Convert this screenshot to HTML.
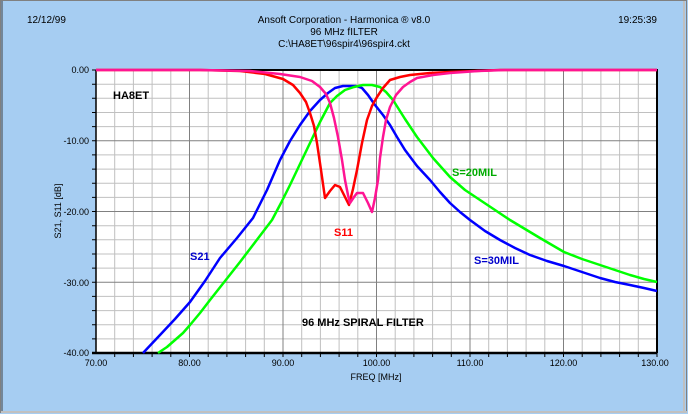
<!DOCTYPE html>
<html><head><meta charset="utf-8"><style>
html,body{margin:0;padding:0;width:688px;height:414px;overflow:hidden;background:#a6cdf2}
svg{display:block}
</style></head><body>
<svg width="688" height="414" xmlns="http://www.w3.org/2000/svg" font-family="Liberation Sans, sans-serif" font-size="10">
<rect x="0" y="0" width="688" height="414" fill="#a6cdf2"/>
<rect x="0.5" y="0.5" width="686" height="412" fill="none" stroke="#808080" stroke-width="1"/>
<line x1="2" y1="1" x2="2" y2="412" stroke="#404040" stroke-width="1"/>
<line x1="684" y1="1" x2="684" y2="412" stroke="#c0c0c0" stroke-width="2"/>
<line x1="1" y1="412" x2="687" y2="412" stroke="#c0c0c0" stroke-width="2"/>
<text x="27" y="23">12/12/99</text>
<text x="344" y="23" text-anchor="middle">Ansoft Corporation - Harmonica ® v8.0</text>
<text x="344" y="35" text-anchor="middle">96 MHz fILTER</text>
<text x="344" y="47" text-anchor="middle">C:\HA8ET\96spir4\96spir4.ckt</text>
<text x="657" y="23" text-anchor="end">19:25:39</text>
<rect x="96" y="70" width="561" height="283" fill="#fff"/>
<g stroke="#c0c0c0" stroke-width="1">
<path d="M114.7 70V353M133.4 70V353M152.1 70V353M170.8 70V353M208.2 70V353M226.9 70V353M245.6 70V353M264.3 70V353M301.7 70V353M320.4 70V353M339.1 70V353M357.8 70V353M395.2 70V353M413.9 70V353M432.6 70V353M451.3 70V353M488.7 70V353M507.4 70V353M526.1 70V353M544.8 70V353M582.2 70V353M600.9 70V353M619.6 70V353M638.3 70V353"/>
<path d="M96 84.2H657M96 98.3H657M96 112.5H657M96 126.6H657M96 154.9H657M96 169.1H657M96 183.2H657M96 197.4H657M96 225.7H657M96 239.8H657M96 254H657M96 268.1H657M96 296.4H657M96 310.6H657M96 324.7H657M96 338.9H657"/>
</g>
<g stroke="#808080" stroke-width="1">
<path d="M189.5 70V353M283 70V353M376.5 70V353M470 70V353M563.5 70V353"/>
<path d="M96 140.8H657M96 211.5H657M96 282.3H657"/>
</g>
<g stroke="#000" stroke-width="1">
<path d="M92 70H96M92 84.2H96M92 98.3H96M92 112.5H96M92 126.6H96M92 140.8H96M92 154.9H96M92 169.1H96M92 183.2H96M92 197.4H96M92 211.5H96M92 225.7H96M92 239.8H96M92 254H96M92 268.1H96M92 282.3H96M92 296.4H96M92 310.6H96M92 324.7H96M92 338.9H96M92 353H96"/>
<path d="M114.7 353v4M133.4 353v4M152.1 353v4M170.8 353v4M189.5 353v4M208.2 353v4M226.9 353v4M245.6 353v4M264.3 353v4M283 353v4M301.7 353v4M320.4 353v4M339.1 353v4M357.8 353v4M376.5 353v4M395.2 353v4M413.9 353v4M432.6 353v4M451.3 353v4M470 353v4M488.7 353v4M507.4 353v4M526.1 353v4M544.8 353v4M563.5 353v4M582.2 353v4M600.9 353v4M619.6 353v4M638.3 353v4M657 353v4"/>
</g>
<path d="M96 70H657V353" fill="none" stroke="#000" stroke-width="2"/>
<line x1="96" y1="70" x2="96" y2="353" stroke="#000" stroke-width="1.5"/>
<line x1="92" y1="353" x2="657" y2="353" stroke="#000" stroke-width="2.5"/>
<g font-size="9" text-anchor="end">
<text x="89" y="73">0.00</text><text x="89" y="144">-10.00</text><text x="89" y="215">-20.00</text><text x="89" y="286">-30.00</text><text x="89" y="356">-40.00</text>
</g>
<g font-size="9" text-anchor="middle">
<text x="96" y="366">70.00</text><text x="189.5" y="366">80.00</text><text x="283" y="366">90.00</text><text x="376.5" y="366">100.00</text><text x="470" y="366">110.00</text><text x="563.5" y="366">120.00</text><text x="655" y="366">130.00</text>
</g>
<text x="376" y="380" font-size="9" text-anchor="middle">FREQ [MHz]</text>
<text transform="translate(61,211) rotate(-90)" font-size="9" text-anchor="middle">S21, S11 [dB]</text>
<g fill="none" stroke-width="2.5" stroke-linejoin="round">
<polyline stroke="#0000ff" points="143,353 160,335 175,319 190,302 205,281 220,258 237,238 253,218 267,190 280,160 290,141 300,125 310,111 320,100 328,93 335,88 343,86 350,86 356,86 362,88 368,95 375,105 383,115 390,125 397,137 405,150 417,166 430,180 440,192 450,203 460,212 470,220 485,231 500,240 515,248 530,255 547,261 564,266 582,272 600,278 615,282 630,285 644,288 657,291"/>
<polyline stroke="#00ff00" points="158,353 167,347 175,340 183,333 190,325 200,313 210,300 225,281 240,262 256,241 272,220 281,203 290,185 300,164 310,143 320,122 330,103 337,96 345,90 354,87 363,85 372,85 380,87 386,92 393,100 405,119 417,137 433,158 450,177 465,190 480,200 495,210 510,220 525,229 540,238 552,245 564,252 582,259 600,265 615,270 630,275 644,279 657,282"/>
<polyline stroke="#ff0000" points="96,70 200,70 240,71 265,74 283,79 293,85 300,93 306,102 310,113 314,126 317,143 321,170 325,198 330,191 335,185 340,187 345,197 349,205 353,189 357,170 362,143 367,120 372,106 377,97 383,88 390,80 400,77 410,75 430,73 450,72 475,71 500,70 657,70"/>
<polyline stroke="#ff1493" points="96,70 200,70 250,71 280,74 300,77 312,81 320,87 326,94 330,103 334,118 338,137 342,160 345,180 348,195 350,203 354,197 357,193 363,193 368,203 372,212 375,198 378,180 380,158 383,137 386,120 390,107 396,95 403,87 410,82 417,78 433,75 450,73 478,71 505,70 657,70"/>
</g>
<g font-weight="bold" font-size="11">
<text x="113" y="99" fill="#000">HA8ET</text>
<text x="190" y="260" fill="#0000cc">S21</text>
<text x="334" y="236" fill="#ff0000">S11</text>
<text x="452" y="176" fill="#00aa00">S=20MIL</text>
<text x="474" y="264" fill="#0000cc">S=30MIL</text>
<text x="302" y="326" fill="#000">96 MHz SPIRAL FILTER</text>
</g>
</svg>
</body></html>
